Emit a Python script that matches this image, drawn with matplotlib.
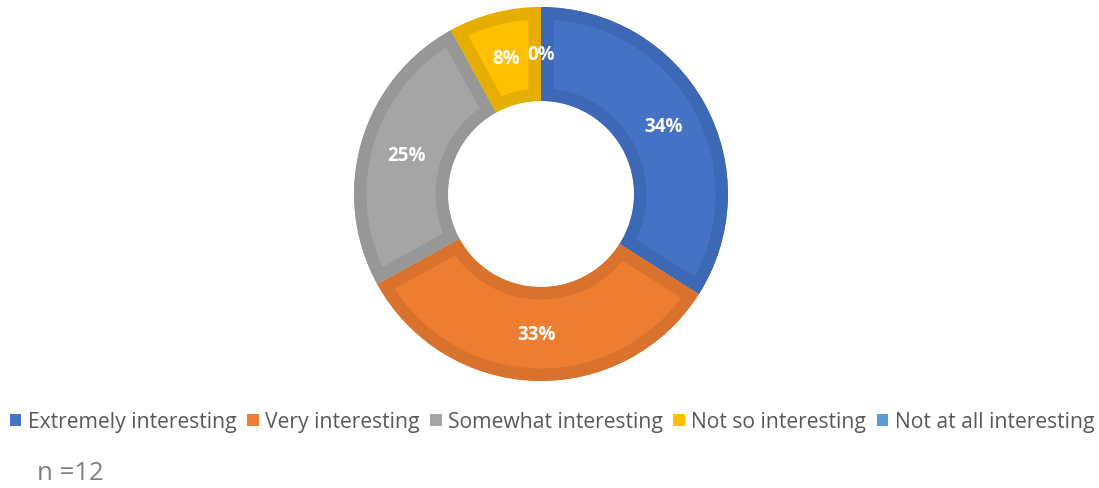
import numpy as np
import matplotlib.pyplot as plt
from matplotlib.patches import Patch

plt.rcParams['font.family'] = ['Open Sans', 'DejaVu Sans']

categories = ["Extremely interesting", "Very interesting", "Somewhat interesting",
              "Not so interesting", "Not at all interesting"]
shares = [34, 33, 25, 8, 0]
fills = ["#4472C4", "#ED7D31", "#A5A5A5", "#FFC000", "#5B9BD5"]
edges = ["#3D68B5", "#D9722C", "#979797", "#E5AE00", "#4F8AC0"]
n_resp = 12

W, H = 1099, 489
fig = plt.figure(figsize=(W / 100, H / 100), dpi=100)
ax = fig.add_axes([0, 0, 1, 1])

wedges, texts = ax.pie(shares, colors=fills, startangle=90, counterclock=False,
                       center=(541, H - 195), radius=187,
                       wedgeprops=dict(width=94, linewidth=18),
                       labels=[f"{v}%" for v in shares], labeldistance=0.75,
                       textprops=dict(color="white", fontsize=13.5, fontweight="bold",
                                      ha="center", va="center"))
for w, ec, v in zip(wedges, edges, shares):
    w.set_edgecolor(ec)
    w.set_clip_path(w)
    w.set_clip_on(True)
    if v == 0:
        w.set_linewidth(0)

ax.set_xlim(0, W)
ax.set_ylim(0, H)
ax.set_aspect("equal")
ax.axis("off")

handles = [Patch(facecolor=c, edgecolor="none") for c in fills]
fig.legend(handles, categories, loc="center", bbox_to_anchor=(552 / W, 1 - 423 / H),
           ncol=5, frameon=False, fontsize=15.2, labelcolor="#595959",
           handlelength=0.55, handleheight=0.55, handletextpad=0.3, columnspacing=0.5)

fig.text(37 / W, 1 - 474 / H, f"n ={n_resp}", fontsize=18.5, color="#7F7F7F",
         ha="left", va="center")

fig.savefig("out.png", dpi=100)
